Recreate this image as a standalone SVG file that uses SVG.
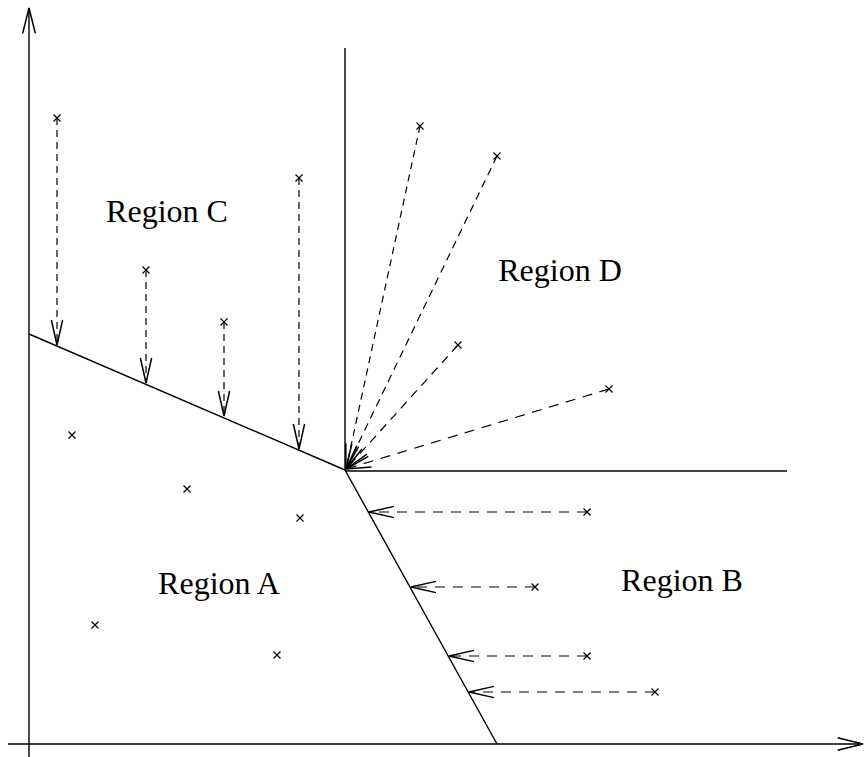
<svg xmlns="http://www.w3.org/2000/svg" width="865" height="757" viewBox="0 0 865 757">
<style>
.s{stroke:#000;stroke-width:1.4;fill:none}
.d{stroke:#000;stroke-width:1.2;fill:none;stroke-dasharray:7 5;marker-end:url(#ah)}
.h{stroke-dasharray:10 8}
.x{stroke:#000;stroke-width:1.2;fill:none}
.t{font-family:"Liberation Serif","Times New Roman",serif;font-size:32px;fill:#000;text-anchor:middle}
</style>
<defs>
<marker id="ah" markerUnits="userSpaceOnUse" markerWidth="30" markerHeight="20" viewBox="-22 -8 24 16" refX="0" refY="0" orient="auto">
<path d="M-20,-4.5 L0,0 L-20,4.5" fill="none" stroke="#000" stroke-width="1.2"/>
</marker>
<marker id="axh" markerUnits="userSpaceOnUse" markerWidth="30" markerHeight="20" viewBox="-24 -8 26 16" refX="0" refY="0" orient="auto">
<path d="M-22,-5.5 L0,0 L-22,5.5" fill="none" stroke="#000" stroke-width="1.3"/>
</marker>
<path id="xm" d="M-3.5,-3.5 L3.5,3.5 M-3.5,3.5 L3.5,-3.5"/>
</defs>
<rect width="865" height="757" fill="#fff"/>
<g id="axes">
<line class="s" x1="29" y1="757" x2="29" y2="8" marker-end="url(#axh)"/>
<line class="s" x1="8" y1="744" x2="863" y2="744" marker-end="url(#axh)"/>
</g>
<g id="boundaries">
<line class="s" x1="29" y1="334" x2="345" y2="470"/>
<line class="s" x1="345" y1="48" x2="345" y2="470"/>
<line class="s" x1="345" y1="471" x2="787" y2="471"/>
<line class="s" x1="345" y1="470" x2="497" y2="744"/>
</g>
<g id="connectors">
<line class="d" x1="57" y1="118" x2="57" y2="345"/>
<line class="d" x1="146" y1="270" x2="146" y2="383"/>
<line class="d" x1="224" y1="322" x2="224" y2="416"/>
<line class="d" x1="299" y1="178" x2="299" y2="449"/>
<line class="d" x1="420" y1="126" x2="346" y2="469" style="stroke-dasharray:7 5.4"/>
<line class="d" x1="497" y1="156" x2="346" y2="469" style="stroke-dasharray:7.8 5.7"/>
<line class="d" x1="458" y1="345" x2="346" y2="469" style="stroke-dasharray:8.8 6.5"/>
<line class="d" x1="609" y1="389" x2="346" y2="469" style="stroke-dasharray:10 7.6"/>
<line class="d h" x1="587" y1="512" x2="369" y2="512"/>
<line class="d h" x1="535" y1="587" x2="411" y2="587"/>
<line class="d h" x1="587" y1="656" x2="449" y2="656"/>
<line class="d h" x1="655" y1="692" x2="469" y2="692"/>
</g>
<g id="points" class="x">
<use href="#xm" x="57" y="118"/>
<use href="#xm" x="146" y="270"/>
<use href="#xm" x="224" y="322"/>
<use href="#xm" x="299" y="178"/>
<use href="#xm" x="420" y="126"/>
<use href="#xm" x="497" y="156"/>
<use href="#xm" x="458" y="345"/>
<use href="#xm" x="609" y="389"/>
<use href="#xm" x="587" y="512"/>
<use href="#xm" x="535" y="587"/>
<use href="#xm" x="587" y="656"/>
<use href="#xm" x="655" y="692"/>
<use href="#xm" x="72" y="435"/>
<use href="#xm" x="187" y="489"/>
<use href="#xm" x="300" y="518"/>
<use href="#xm" x="95" y="625"/>
<use href="#xm" x="277" y="655"/>
</g>
<g id="regionC"><text class="t" x="167" y="222">Region C</text></g>
<g id="regionD"><text class="t" x="560" y="281">Region D</text></g>
<g id="regionA"><text class="t" x="219" y="594">Region A</text></g>
<g id="regionB"><text class="t" x="682" y="591">Region B</text></g>
</svg>
